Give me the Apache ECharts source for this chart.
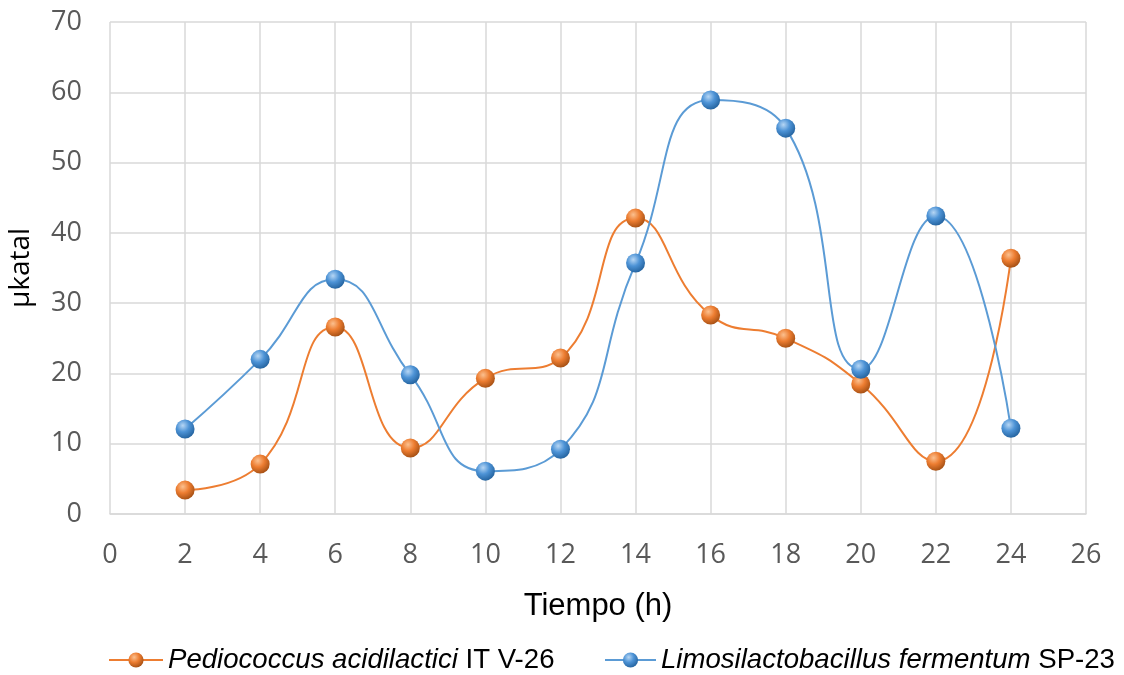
<!DOCTYPE html>
<html>
<head>
<meta charset="utf-8">
<script src="https://cdn.jsdelivr.net/npm/echarts@6/dist/echarts.min.js"></script>
<style>
  html, body { margin: 0; padding: 0; background: #fff; }
  #chart { width: 1124px; height: 675px; }
</style>
</head>
<body>
<div id="chart"></div>
<script>
const hours = [2, 4, 6, 8, 10, 12, 14, 16, 18, 20, 22, 24]
const pediococcus = [3.4, 7.1, 26.6, 9.4, 19.3, 22.2, 42.1, 28.3, 25.0, 18.5, 7.5, 36.4]
const limosilacto = [12.1, 22.0, 33.4, 19.8, 6.1, 9.2, 35.7, 58.9, 54.9, 20.6, 42.4, 12.2]
const seriesNames = ['Pediococcus acidilactici| IT V-26', 'Limosilactobacillus fermentum| SP-23']

function sphere(light, mid, dark) {
  return new echarts.graphic.RadialGradient(0.38, 0.32, 0.75, [
    { offset: 0, color: light },
    { offset: 0.45, color: mid },
    { offset: 1, color: dark }
  ])
}

const pairs = (ys) => hours.map((h, i) => [h, ys[i]])

const legendText = {
  fontSize: 27.6, fontFamily: 'Liberation Sans', color: '#000',
  rich: {
    i: { fontSize: 27.6, fontFamily: 'Liberation Sans', fontStyle: 'italic', color: '#000' },
    n: { fontSize: 27.6, fontFamily: 'Liberation Sans', color: '#000' }
  }
}
const legendFmt = (name) => {
  const parts = name.split('|')
  return '{i|' + parts[0] + '}{n|' + parts[1] + '}'
}
const makeLegend = (name, left, w) => ({
  top: 646, left, padding: 0, itemWidth: w, itemHeight: 19,
  textStyle: legendText, formatter: legendFmt, data: [name]
})

const chart = echarts.init(document.getElementById('chart'), null, { renderer: 'canvas' })

chart.setOption({
  backgroundColor: '#fff',
  animation: false,
  grid: { left: 110, right: 38, top: 22, bottom: 161, containLabel: false, outerBoundsMode: 'none' },
  xAxis: {
    type: 'value', min: 0, max: 26, interval: 2,
    name: 'Tiempo (h)', nameLocation: 'middle', nameGap: 77,
    nameTextStyle: { color: '#000', fontSize: 31, fontFamily: 'Liberation Sans' },
    axisLine: { show: true, lineStyle: { color: '#d9d9d9', width: 1.5 } },
    axisTick: { show: false },
    axisLabel: { color: '#595959', fontSize: 27, fontFamily: 'Open Sans', margin: 28 },
    splitLine: { show: true, lineStyle: { color: '#d9d9d9', width: 1.5 } }
  },
  yAxis: {
    type: 'value', min: 0, max: 70, interval: 10,
    name: 'µkatal', nameLocation: 'middle', nameGap: 75,
    nameTextStyle: { color: '#000', fontSize: 28, fontFamily: 'Open Sans' },
    axisLine: { show: false },
    axisTick: { show: false },
    axisLabel: { color: '#595959', fontSize: 27, fontFamily: 'Open Sans', margin: 28 },
    splitLine: { show: true, lineStyle: { color: '#d9d9d9', width: 1.5 } }
  },
  legend: [makeLegend(seriesNames[0], 108, 54), makeLegend(seriesNames[1], 604, 51)],
  series: [
    {
      name: seriesNames[0],
      type: 'line', smooth: 0.5,
      data: pairs(pediococcus),
      symbol: 'circle', symbolSize: 19,
      lineStyle: { color: '#ED7D31', width: 2 },
      itemStyle: { color: sphere('#fbc08f', '#ED7D31', '#9c4a10'), borderWidth: 0 },
      z: 2
    },
    {
      name: seriesNames[1],
      type: 'line', smooth: 0.5,
      data: pairs(limosilacto),
      symbol: 'circle', symbolSize: 19,
      lineStyle: { color: '#5B9BD5', width: 2 },
      itemStyle: { color: sphere('#b6d6f4', '#4d93d6', '#1f5d98'), borderWidth: 0 },
      z: 3
    }
  ]
})
</script>
</body>
</html>
